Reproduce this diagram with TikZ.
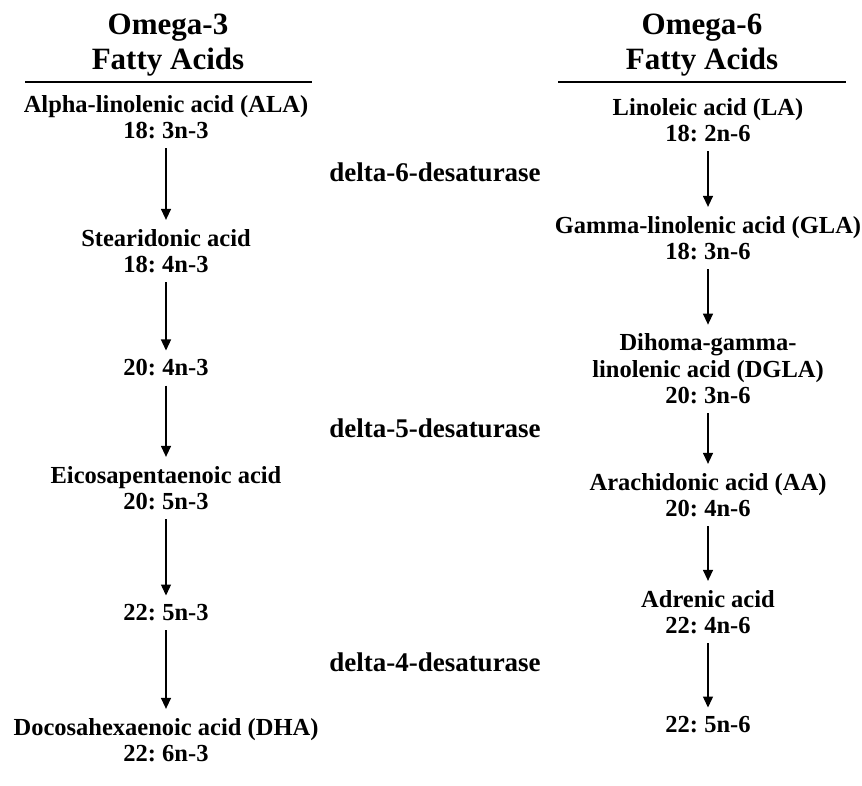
\documentclass[tikz,border=0pt]{standalone}
\usepackage{fontspec}
\setmainfont{Liberation Serif}
\usetikzlibrary{arrows, arrows.meta}
\tikzset{acid/.style = {align = center, inner sep = 0pt, font = \bfseries\frenchspacing\fontsize{24.5}{26.5}\selectfont}}
\tikzset{title/.style = {align = center, inner sep = 0pt, font = \bfseries\fontsize{31}{35}\selectfont}}
\tikzset{enzyme/.style = {inner sep = 0pt, font = \bfseries\fontsize{27}{30}\selectfont}}
\tikzset{edge/.style = {-{Triangle[length = 11pt, width = 10pt]}, line width = 1.3pt, shorten < = 9pt, shorten > = 9pt}}
\tikzset{rule/.style = {line width = 1.5pt}}

\begin{document}
\begin{tikzpicture}[x = 1pt, y = -1pt]
				\useasboundingbox (0, 0) rectangle (862, 786);

				% headings
				\node[title] (h3) at (168, 45) {Omega-3\\Fatty Acids};
				\node[title] (h6) at (702, 45) {Omega-6\\Fatty Acids};
				\draw[rule] (25, 82) -- (312, 82);
				\draw[rule] (558, 82) -- (846, 82);

				% omega-3 side
				\node[acid] (ala) at (166, 117) {Alpha-linolenic acid (ALA)\\18: 3n-3};
				\node[acid] (sda) at (166, 251) {Stearidonic acid\\18: 4n-3};
				\node[acid] (eta) at (166, 368) {20: 4n-3};
				\node[acid] (epa) at (166, 488) {Eicosapentaenoic acid\\20: 5n-3};
				\node[acid] (dpa) at (166, 613) {22: 5n-3};
				\node[acid] (dha) at (166, 740) {Docosahexaenoic acid (DHA)\\22: 6n-3};

				% omega-6 side
				\node[acid] (la) at (708, 120) {Linoleic acid (LA)\\18: 2n-6};
				\node[acid] (gla) at (708, 238) {Gamma-linolenic acid (GLA)\\18: 3n-6};
				\node[acid] (dgla) at (708, 369) {Dihoma-gamma-\\linolenic acid (DGLA)\\20: 3n-6};
				\node[acid] (aa) at (708, 495) {Arachidonic acid (AA)\\20: 4n-6};
				\node[acid] (adr) at (708, 612) {Adrenic acid\\22: 4n-6};
				\node[acid] (osb) at (708, 725) {22: 5n-6};

				% enzymes
				\node[enzyme] (d6) at (435, 172) {delta-6-desaturase};
				\node[enzyme] (d5) at (435, 428) {delta-5-desaturase};
				\node[enzyme] (d4) at (435, 662) {delta-4-desaturase};

				\draw[edge] (ala) -- (sda);
				\draw[edge] (sda) -- (eta);
				\draw[edge] (eta) -- (epa);
				\draw[edge] (epa) -- (dpa);
				\draw[edge] (dpa) -- (dha);

				\draw[edge] (la) -- (gla);
				\draw[edge] (gla) -- (dgla);
				\draw[edge] (dgla) -- (aa);
				\draw[edge] (aa) -- (adr);
				\draw[edge] (adr) -- (osb);
			\end{tikzpicture}
\end{document}
